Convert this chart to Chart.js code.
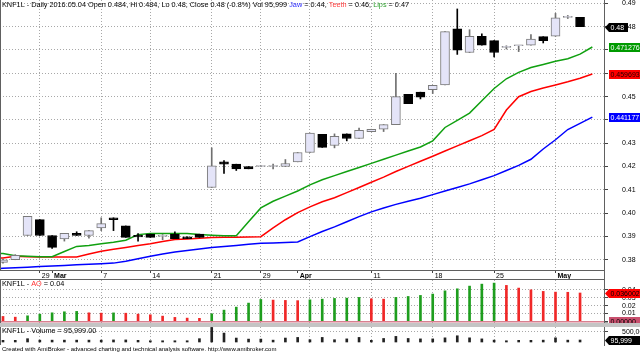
<!DOCTYPE html>
<html>
<head>
<meta charset="utf-8">
<script src="https://cdn.jsdelivr.net/npm/chart.js@4.4.1/dist/chart.umd.min.js"></script>
<style>
html, body { margin: 0; padding: 0; background: #fff; }
#wrap { position: relative; width: 640px; height: 353px; overflow: hidden; }
#wrap canvas { position: absolute; left: 0; }
#sep { position: absolute; left: 0; top: 323px; width: 640px; height: 4px; background: #c4c4c4; }
</style>
</head>
<body>
<div id="wrap">
  <canvas id="price" width="640" height="280" style="top:0"></canvas>
  <canvas id="ao" width="640" height="43" style="top:280px"></canvas>
  <div id="sep"></div>
  <canvas id="vol" width="640" height="26" style="top:327px"></canvas>
</div>
<script>
const FONT = "'Liberation Sans', Arial, sans-serif";

// trading days, Feb 24 .. May 4 2016
const dates = ['02-24','02-25','02-26','02-29','03-01','03-02','03-03','03-04','03-07','03-08',
  '03-09','03-10','03-14','03-15','03-16','03-17','03-18','03-21','03-22','03-23',
  '03-24','03-29','03-30','03-31','04-01','04-04','04-05','04-06','04-07','04-08',
  '04-11','04-12','04-13','04-14','04-15','04-18','04-19','04-20','04-21','04-22',
  '04-25','04-26','04-27','04-28','04-29','05-02','05-03','05-04'];

const open  = [0.3789,0.3800,0.3904,0.3972,0.3904,0.3889,0.3913,0.3904,0.3937,0.3980,
  0.3945,0.3905,0.3910,0.3900,0.3910,0.3898,0.3910,0.4110,0.4220,0.4210,
  0.4200,0.4200,0.4200,0.4200,0.4220,0.4260,0.4338,0.4290,0.4340,0.4320,
  0.4350,0.4360,0.4380,0.4510,0.4519,0.4530,0.4550,0.4791,0.4689,0.4759,
  0.4740,0.4711,0.4718,0.4721,0.4757,0.4759,0.4840,0.484];
const high  = [0.3803,0.3822,0.3986,0.3972,0.3904,0.3913,0.3920,0.3925,0.3980,0.3980,
  0.3945,0.3912,0.3910,0.3908,0.3920,0.3898,0.3910,0.4280,0.4225,0.4210,
  0.4200,0.4200,0.4210,0.4230,0.4260,0.4343,0.4338,0.4340,0.4340,0.4365,
  0.4360,0.4380,0.4600,0.4510,0.4519,0.4548,0.4779,0.4876,0.4787,0.4769,
  0.4740,0.4718,0.4718,0.4766,0.4757,0.4857,0.4848,0.484];
const low   = [0.3785,0.3800,0.3904,0.3904,0.3849,0.3880,0.3904,0.3893,0.3925,0.3925,
  0.3896,0.3880,0.3896,0.3886,0.3890,0.3890,0.3896,0.4110,0.4170,0.4183,
  0.4190,0.4200,0.4190,0.4200,0.4220,0.4260,0.4282,0.4280,0.4310,0.4320,
  0.4350,0.4350,0.4380,0.4470,0.4490,0.4513,0.4550,0.4681,0.4689,0.4721,
  0.4670,0.4704,0.4693,0.4721,0.4730,0.4759,0.4835,0.480];
const close = [0.3800,0.3819,0.3986,0.3904,0.3853,0.3913,0.3904,0.3925,0.3955,0.3972,
  0.3896,0.3898,0.3896,0.3900,0.3890,0.3890,0.3896,0.4203,0.4210,0.4190,
  0.4190,0.4200,0.4200,0.4213,0.4260,0.4343,0.4282,0.4330,0.4320,0.4355,
  0.4360,0.4380,0.4500,0.4470,0.4498,0.4548,0.4779,0.4699,0.4759,0.4721,
  0.4689,0.4711,0.4718,0.4747,0.4740,0.4838,0.4840,0.480];
const volume = [80000,80000,160000,90000,90000,90000,90000,90000,90000,100000,
  100000,80000,60000,60000,60000,60000,160000,700000,430000,190000,
  140000,140000,90000,190000,220000,110000,220000,110000,150000,220000,
  80000,170000,270000,170000,150000,150000,200000,300000,200000,150000,
  90000,60000,80000,80000,90000,200000,90000,95999];

// Alligator lines: first value sits one bar before the first day, last one a bar after
const LINE_START = -1;
const lips  = [0.38286,0.38264,0.38176,0.38154,0.38132,0.38132,0.38352,0.38572,0.38616,0.38682,
  0.38748,0.38836,0.39078,0.39122,0.39131,0.39131,0.39122,0.39078,0.39056,0.39034,
  0.39034,0.39628,0.40222,0.40508,0.40728,0.40948,0.41212,0.41432,0.41608,0.41784,
  0.41960,0.42136,0.42311,0.42487,0.42663,0.42839,0.43103,0.43675,0.43983,0.44291,
  0.44819,0.45347,0.45765,0.46038,0.46249,0.46381,0.46513,0.46623,0.46821,0.471276];
const teeth = [0.38066,0.38075,0.38145,0.38132,0.38119,0.38119,0.38119,0.38119,0.38242,0.38365,
  0.38449,0.38528,0.38616,0.38691,0.38779,0.38867,0.38893,0.38924,0.38955,0.38968,
  0.38968,0.38977,0.38990,0.39364,0.39716,0.40024,0.40266,0.40486,0.40662,0.40882,
  0.41102,0.41322,0.41542,0.41784,0.42004,0.42224,0.42443,0.42663,0.42883,0.43103,
  0.43323,0.43587,0.44423,0.44995,0.45215,0.45369,0.45501,0.45633,0.45787,0.459693];
const jaw   = [0.37613,0.37635,0.37657,0.37683,0.37710,0.37736,0.37758,0.37780,0.37806,0.37833,
  0.37855,0.37934,0.38044,0.38154,0.38242,0.38330,0.38396,0.38462,0.38528,0.38572,
  0.38616,0.38660,0.38704,0.38722,0.38739,0.38766,0.38990,0.39210,0.39408,0.39628,
  0.39848,0.40055,0.40222,0.40376,0.40508,0.40640,0.40794,0.40948,0.41102,0.41256,
  0.41432,0.41608,0.41828,0.42048,0.42311,0.42751,0.43147,0.43587,0.43851,0.441177];

const ao = [0.0063,0.0054,0.0071,0.0092,0.0109,0.0122,0.0127,0.0109,0.0105,0.0108,
  0.0104,0.0092,0.0084,0.0067,0.0051,0.0042,0.0039,0.0096,0.0143,0.0181,
  0.0232,0.0278,0.0270,0.0266,0.0263,0.0273,0.0282,0.0291,0.0295,0.0304,
  0.0286,0.0282,0.0304,0.0316,0.0329,0.0346,0.0387,0.0413,0.0447,0.0472,
  0.0485,0.0456,0.0422,0.0400,0.0380,0.0371,0.0369,0.036002];

// axis
const priceTicks = [0.38,0.39,0.40,0.41,0.42,0.43,0.44,0.45,0.46,0.47,0.48,0.49];
const aoTicks = [0, 0.01, 0.02, 0.03, 0.04];
const volTicks = [500000];
const axisLabelIdx  = [3, 4, 8, 12, 17, 21, 24, 30, 35, 40, 45];
const axisLabelText = ['29', 'Mar', '7', '14', '21', '29', 'Apr', '11', '18', '25', 'May'];
const weekStartIdx  = [3, 8, 12, 17, 21, 25, 30, 35, 40, 45];

const X_MIN = -0.244, X_MAX = 48.95;
const GRID = '#a8a8a8';
const xTickValues = [...new Set([...axisLabelIdx, ...weekStartIdx])].sort((a, b) => a - b);

// ---------- plugins ----------
const richTitle = {
  id: 'richTitle',
  afterDraw(chart, args, opts) {
    if (!opts.parts) return;
    const ctx = chart.ctx;
    ctx.save();
    ctx.font = opts.font;
    ctx.textBaseline = 'middle';
    let x = opts.x;
    for (const [t, c] of opts.parts) {
      ctx.fillStyle = c;
      ctx.fillText(t, x, opts.y);
      x += ctx.measureText(t).width;
    }
    ctx.restore();
  }
};

const frame = {
  id: 'frame',
  afterDraw(chart, args, opts) {
    const ctx = chart.ctx, a = chart.chartArea;
    ctx.save();
    ctx.strokeStyle = '#606060';
    ctx.lineWidth = 1;
    ctx.beginPath();
    ctx.moveTo(0.5, a.top); ctx.lineTo(0.5, a.bottom);
    ctx.moveTo(a.right + 0.5, 0); ctx.lineTo(a.right + 0.5, opts.lineTo || a.bottom);
    if (opts.stripBottom) { ctx.moveTo(0, opts.stripBottom + 0.5); ctx.lineTo(a.right, opts.stripBottom + 0.5); }
    ctx.stroke();
    ctx.restore();
  }
};

const valueBoxes = {
  id: 'valueBoxes',
  afterDraw(chart, args, opts) {
    if (!opts.boxes) return;
    const ctx = chart.ctx, ys = chart.scales.y, x0 = chart.chartArea.right + 1;
    ctx.save();
    ctx.font = '7px ' + FONT;
    ctx.textBaseline = 'middle';
    for (const b of opts.boxes) {
      const py = Math.round(ys.getPixelForValue(b.value)) + 0.5;
      const left = x0 + 4;
      ctx.fillStyle = b.bg;
      ctx.beginPath();
      if (b.arrow) {
        ctx.moveTo(x0, py);
        ctx.lineTo(left, py - 4.5);
      } else {
        ctx.moveTo(left, py - 4.5);
      }
      ctx.lineTo(left + b.w, py - 4.5);
      ctx.lineTo(left + b.w, py + 4.5);
      ctx.lineTo(left, py + 4.5);
      ctx.closePath();
      ctx.fill();
      ctx.fillStyle = b.fg;
      ctx.fillText(b.text, left + 1.5, py + 0.5);
    }
    ctx.restore();
  }
};

Chart.register(richTitle, frame, valueBoxes);

function xScale(showLabels) {
  return {
    type: 'linear', min: X_MIN, max: X_MAX, offset: false,
    afterBuildTicks: s => { s.ticks = xTickValues.map(v => ({ value: v })); },
    afterFit: s => { s.height = showLabels ? 10 : 0; s.paddingLeft = 0; s.paddingRight = 0; },
    ticks: {
      display: showLabels, autoSkip: false, maxRotation: 0, minRotation: 0,
      align: 'start', labelOffset: 2, padding: -1, color: '#000',
      callback: v => { const k = axisLabelIdx.indexOf(v); return k < 0 ? '' : axisLabelText[k]; },
      font: ctx => ({ family: FONT, size: 7,
        weight: /^[A-Z]/.test(axisLabelText[axisLabelIdx.indexOf(ctx.tick && ctx.tick.value)] || '') ? 'bold' : 'normal' })
    },
    grid: {
      offset: false, drawTicks: showLabels, tickLength: 3, lineWidth: 1,
      color: ctx => weekStartIdx.includes(ctx.tick && ctx.tick.value) ? GRID : 'rgba(0,0,0,0)',
      tickColor: ctx => axisLabelIdx.includes(ctx.tick && ctx.tick.value) ? '#444' : 'rgba(0,0,0,0)'
    },
    border: { display: showLabels, color: '#606060', dash: [1, 2] }
  };
}

function yScale(min, max, ticks, fmt, zeroColor) {
  return {
    type: 'linear', position: 'right', min: min, max: max,
    afterBuildTicks: s => { s.ticks = ticks.map(v => ({ value: v })); },
    afterFit: s => { s.width = 36; s.paddingTop = 0; s.paddingBottom = 0; },
    ticks: { autoSkip: false, padding: 14, color: '#000', font: { family: FONT, size: 7 }, crossAlign: 'near', callback: fmt },
    grid: {
      lineWidth: ctx => (zeroColor && ctx.tick && ctx.tick.value === 0) ? 1.5 : 1,
      color: ctx => (zeroColor && ctx.tick && ctx.tick.value === 0) ? zeroColor : GRID,
      tickColor: '#444', tickLength: 4
    },
    border: { color: '#606060', dash: ctx => (zeroColor && ctx.tick && ctx.tick.value === 0) ? [] : [1, 2] }
  };
}

const common = {
  responsive: false, animation: false, events: [],
  plugins: { legend: { display: false }, tooltip: { enabled: false } }
};

// ---------- price panel ----------
const isUp = close.map((c, i) => c >= open[i]);
new Chart(document.getElementById('price'), {
  type: 'bar',
  data: {
    datasets: [
      { type: 'bar', data: open.map((o, i) => ({ x: i, y: [o, close[i]] })),
        backgroundColor: isUp.map(u => u ? '#e4e4f8' : '#000'),
        borderColor: isUp.map(u => u ? '#7a7a7a' : '#000'),
        borderWidth: 1, borderSkipped: false, barThickness: 9, minBarLength: 1, grouped: false, order: 0 },
      { type: 'bar', data: high.map((h, i) => ({ x: i, y: [low[i], h] })),
        backgroundColor: isUp.map(u => u ? '#707070' : '#000'),
        borderWidth: 0, barThickness: 1, minBarLength: 1, grouped: false, order: 1 },
      { type: 'line', data: lips.map((v, k) => ({ x: k + LINE_START, y: v })),
        borderColor: '#10a010', borderWidth: 1.5, pointRadius: 0, tension: 0, order: 2 },
      { type: 'line', data: teeth.map((v, k) => ({ x: k + LINE_START, y: v })),
        borderColor: '#ff0000', borderWidth: 1.5, pointRadius: 0, tension: 0, order: 3 },
      { type: 'line', data: jaw.map((v, k) => ({ x: k + LINE_START, y: v })),
        borderColor: '#0000ff', borderWidth: 1.5, pointRadius: 0, tension: 0, order: 4 }
    ]
  },
  options: {
    ...common,
    layout: { padding: 0 },
    plugins: {
      ...common.plugins,
      richTitle: { x: 2, y: 5, font: '7.3px ' + FONT, parts: [
        ['KNF1L - Daily 2016.05.04 Open 0.484, Hi 0.484, Lo 0.48, Close 0.48 (-0.8%) Vol 95,999 ', '#000'],
        ['Jaw', '#3030ff'], [' = 0.44, ', '#000'],
        ['Teeth', '#ff4040'], [' = 0.46, ', '#000'],
        ['Lips', '#30a030'], [' = 0.47', '#000']] },
      frame: { lineTo: 280, stripBottom: 279 },
      valueBoxes: { boxes: [
        { value: close[close.length - 1], text: close[close.length - 1].toFixed(2), bg: '#000', fg: '#fff', arrow: true, w: 19 },
        { value: lips[lips.length - 1], text: lips[lips.length - 1].toFixed(6), bg: '#009a00', fg: '#fff', w: 40 },
        { value: teeth[teeth.length - 1], text: teeth[teeth.length - 1].toFixed(6), bg: '#ff0000', fg: '#200', w: 40 },
        { value: jaw[jaw.length - 1], text: jaw[jaw.length - 1].toFixed(6), bg: '#0000ff', fg: '#fff', w: 40 }
      ] }
    },
    scales: {
      x: xScale(true),
      y: yScale(0.3756, 0.49144, priceTicks, v => v.toFixed(2))
    }
  }
});

// ---------- AO panel ----------
const aoColors = ao.map((v, i) => (i > 0 && v >= ao[i - 1]) ? '#1e9e1e' : '#f02828');
new Chart(document.getElementById('ao'), {
  type: 'bar',
  data: { datasets: [{ data: ao.map((v, i) => ({ x: i, y: v })), backgroundColor: aoColors,
    borderWidth: 0, barThickness: 2, grouped: false }] },
  options: {
    ...common,
    layout: { padding: 0 },
    plugins: {
      ...common.plugins,
      richTitle: { x: 2, y: 4, font: '7.3px ' + FONT, parts: [['KNF1L - ', '#000'], ['AO', '#ff3030'], [' = 0.04', '#000']] },
      frame: {},
      valueBoxes: { boxes: [
        { value: ao[ao.length - 1], text: ao[ao.length - 1].toFixed(6), bg: '#ff0000', fg: '#000', arrow: true, w: 40 },
        { value: 0, text: '0.00000', bg: '#c8506e', fg: '#000', w: 40 }
      ] }
    },
    scales: {
      x: xScale(false),
      y: yScale(-0.002, 0.05243, aoTicks, v => v === 0 ? '' : v.toFixed(2), '#d87f8f')
    }
  }
});

// ---------- volume panel ----------
new Chart(document.getElementById('vol'), {
  type: 'bar',
  data: { datasets: [{ data: volume.map((v, i) => ({ x: i, y: v })), backgroundColor: '#222',
    borderWidth: 0, barThickness: 2, grouped: false }] },
  options: {
    ...common,
    layout: { padding: { bottom: 8 } },
    plugins: {
      ...common.plugins,
      richTitle: { x: 2, y: 4, font: '7.3px ' + FONT, parts: [['KNF1L - Volume = 95,999.00', '#000']] },
      frame: {},
      valueBoxes: { boxes: [
        { value: volume[volume.length - 1], text: '95,999', bg: '#000', fg: '#fff', arrow: true, w: 40 }
      ] }
    },
    scales: {
      x: xScale(false),
      y: yScale(-144000, 721000, volTicks, v => v.toLocaleString('en-US'))
    }
  },
  plugins: [{
    id: 'footer',
    afterDraw(chart) {
      const ctx = chart.ctx;
      ctx.save();
      ctx.font = '6px ' + FONT;
      ctx.fillStyle = '#000';
      ctx.textBaseline = 'middle';
      ctx.fillText('Created with AmiBroker - advanced charting and technical analysis software. http://www.amibroker.com', 2, 22);
      ctx.restore();
    }
  }]
});
</script>
</body>
</html>
